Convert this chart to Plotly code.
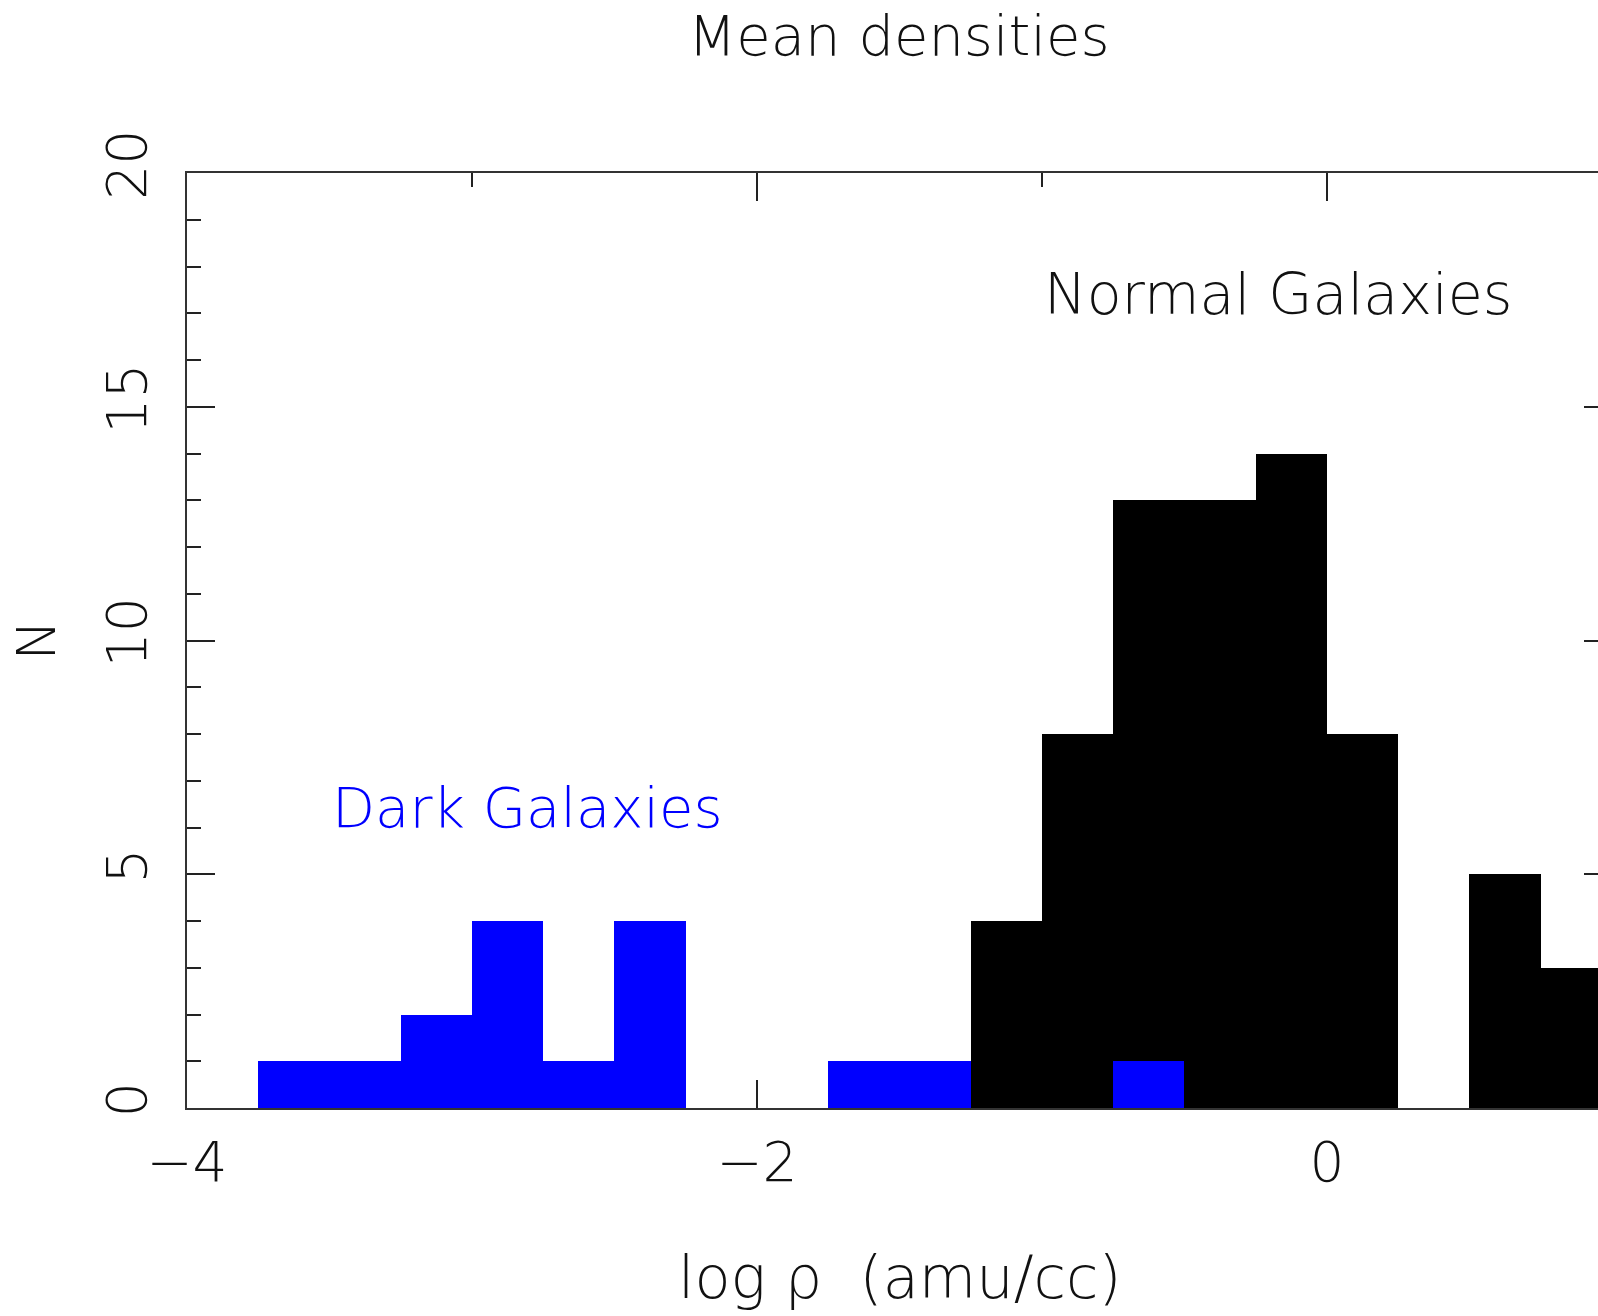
import plotly.graph_objects as go

# Histogram data (bin width 0.25 in log rho)
bin_width = 0.25
black_centers = [-1.125, -0.875, -0.625, -0.375, -0.125, 0.125, 0.625, 0.875]
black_counts = [4, 8, 13, 13, 14, 8, 5, 3]
blue_centers = [-3.625, -3.375, -3.125, -2.875, -2.625, -2.375, -1.625, -1.375, -0.625]
blue_counts = [1, 1, 2, 4, 1, 4, 1, 1, 1]

x_tick_vals = [-4, -2, 0]
x_tick_text = ["\u22124", "\u22122", "0"]
y_tick_vals = [0, 5, 10, 15, 20]

W, H = 1598, 1316
L, T, B = 187, 173, 208
FONT = "DejaVu Sans"
LW = 200
INK = "#111111"

fig = go.Figure()
fig.add_trace(go.Bar(x=black_centers, y=black_counts, width=bin_width,
                     marker=dict(color="#000000", line=dict(width=0)),
                     showlegend=False))
fig.add_trace(go.Bar(x=blue_centers, y=blue_counts, width=bin_width,
                     marker=dict(color="#0000ff", line=dict(width=0)),
                     showlegend=False))
# empty trace to activate the right-hand tick axis
fig.add_trace(go.Scatter(x=[], y=[], yaxis="y2", showlegend=False))

axis_common = dict(showgrid=False, zeroline=False, showline=True,
                   linecolor="#333333", linewidth=1.5,
                   ticks="inside", tickcolor="#222222", tickwidth=1.5,
                   layer="below traces")

fig.update_layout(
    width=W, height=H,
    margin=dict(l=L, r=0, t=T, b=B, pad=0),
    paper_bgcolor="white", plot_bgcolor="white",
    barmode="overlay", bargap=0,
    font=dict(family=FONT, color=INK, weight=LW),
    xaxis=dict(**axis_common, range=[-4, 0.951], mirror="ticks",
               tickmode="array", tickvals=x_tick_vals, ticktext=x_tick_text,
               ticklen=28,
               minor=dict(dtick=1, tick0=0, ticklen=14, ticks="inside",
                          tickcolor="#222222", tickwidth=1.5),
               tickfont=dict(family=FONT, size=55, color=INK, weight=LW),
               ticklabelstandoff=5),
    yaxis=dict(**axis_common, range=[0, 20], mirror=False,
               tickmode="array", tickvals=y_tick_vals,
               ticklen=28, tickangle=-90,
               minor=dict(dtick=1, tick0=0, ticklen=14, ticks="inside",
                          tickcolor="#222222", tickwidth=1.5),
               tickfont=dict(family=FONT, size=55, color=INK, weight=LW),
               ticklabelstandoff=17),
    yaxis2=dict(overlaying="y", side="right", range=[0, 20],
                tickmode="array", tickvals=y_tick_vals,
                ticks="inside", ticklen=14, tickwidth=1.5, tickcolor="#222222",
                showticklabels=False, showline=False, showgrid=False,
                zeroline=False, layer="below traces"),
)

annotations = [
    dict(text="Mean densities", xref="x", x=-1.5, yref="paper", y=1.147,
         xanchor="center", yanchor="middle", showarrow=False,
         font=dict(family=FONT, size=56, color=INK, weight=LW)),
    dict(text="log \u03c1\u00a0 (amu/cc)", xref="x", x=-1.5, yref="paper", y=-0.181,
         xanchor="center", yanchor="middle", showarrow=False,
         font=dict(family=FONT, size=59, color=INK, weight=LW)),
    dict(text="N", xref="paper", x=-0.107, yref="paper", y=0.5, textangle=-90,
         xanchor="center", yanchor="middle", showarrow=False,
         font=dict(family=FONT, size=54, color=INK, weight=LW)),
    dict(text="Normal Galaxies", xref="x", x=-1.0, yref="y", y=17.41,
         xanchor="left", yanchor="middle", showarrow=False,
         font=dict(family=FONT, size=57, color=INK, weight=LW)),
    dict(text="Dark Galaxies", xref="x", x=-3.5, yref="y", y=6.43,
         xanchor="left", yanchor="middle", showarrow=False,
         font=dict(family=FONT, size=56, color="#0000ff", weight=LW)),
]
fig.update_layout(annotations=annotations)

fig.write_html(
    "out.html",
    config={"displayModeBar": False},
    post_script="document.body.style.margin='0px';"
                "document.documentElement.style.overflow='hidden';",
)
